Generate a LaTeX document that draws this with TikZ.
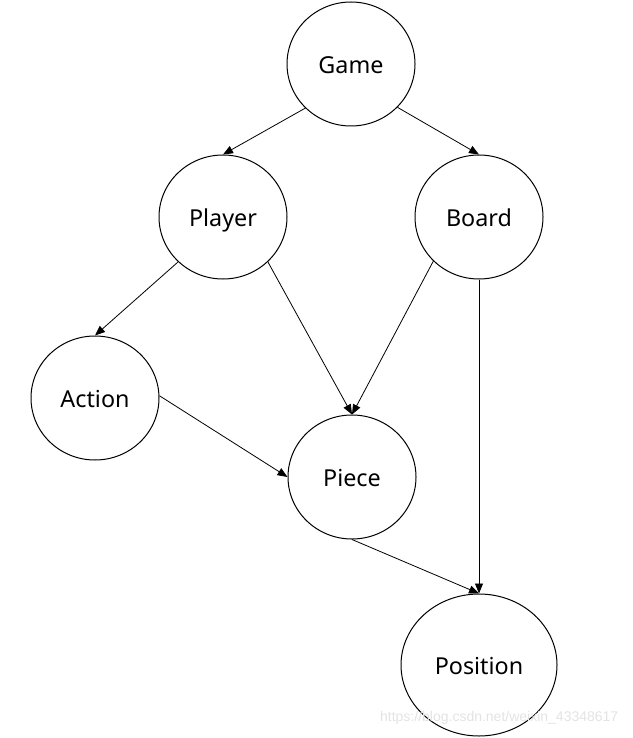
\documentclass[tikz,border=0pt]{standalone}
\usepackage{fontspec}
\setmainfont{Noto Sans}
\newfontfamily\markfont{Liberation Sans}
\usetikzlibrary{shapes.geometric,arrows.meta}

\begin{document}
\begin{tikzpicture}[x=0.75pt,y=-0.75pt,
                entity/.style={draw,ellipse,line width=0.75pt,minimum width=96pt,minimum height=93pt,inner sep=0pt,text height=1.43em,text depth=0pt,font=\fontsize{17.5}{20}\selectfont},
                link/.style={line width=0.6pt,-{Triangle[length=7.5pt,width=6pt]}}]
                \useasboundingbox (0,0) rectangle (632,738);
                \node[entity] (game) at (351,64) {Game};
                \node[entity] (player) at (223,217) {Player};
                \node[entity] (board) at (479,217) {Board};
                \node[entity] (action) at (95,398) {Action};
                \node[entity] (piece) at (352,477) {Piece};
                \node[entity,minimum width=117pt,minimum height=106.5pt] (position) at (479,665) {Position};
                \draw[link] (game.224) -- (player.north);
                \draw[link] (game.317) -- (board.north);
                \draw[link] (player.225) -- (action.north);
                \draw[link] (player.315) -- (piece.north);
                \draw[link] (board.224) -- (piece.north);
                \draw[link] (board.south) -- (position.north);
                \draw[link] (action.2) -- (piece.west);
                \draw[link] (piece.south) -- (position.north);
                \node[anchor=east,text=black!11,font=\markfont\fontsize{10.5}{13}\selectfont] (mark) at (623,718) {https://blog.csdn.net/weixin\_43348617};
            \end{tikzpicture}
\end{document}
